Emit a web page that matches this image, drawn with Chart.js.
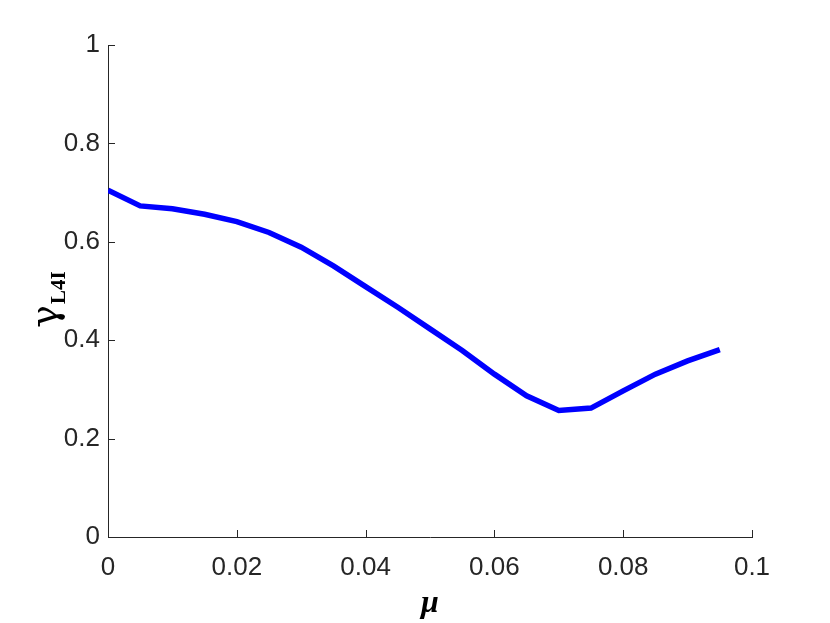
<!DOCTYPE html>
<html>
<head>
<meta charset="utf-8">
<script src="https://cdn.jsdelivr.net/npm/chart.js@4.4.1/dist/chart.umd.min.js"></script>
<style>
  body { margin: 0; background: #fff; }
  canvas { display: block; }
</style>
</head>
<body>
<canvas id="chart" width="830" height="623"></canvas>
<script>
const muValues = [0, 0.005, 0.01, 0.015, 0.02, 0.025, 0.03, 0.035, 0.04, 0.045,
                  0.05, 0.055, 0.06, 0.065, 0.07, 0.075, 0.08, 0.085, 0.09, 0.095];
const gammaValues = [0.705, 0.673, 0.667, 0.656, 0.641, 0.619, 0.589, 0.551, 0.509, 0.467,
                     0.423, 0.379, 0.331, 0.287, 0.257, 0.262, 0.297, 0.331, 0.358, 0.381];
const xTicks = [0, 0.02, 0.04, 0.06, 0.08, 0.1];
const yTicks = [0, 0.2, 0.4, 0.6, 0.8, 1];
const xTitle = "μ";
const yTitle = "γ";
const yTitleSub = "L4I";

const axisColor = "#262626";
const tickFont = { family: "'Liberation Sans', Arial, sans-serif", size: 26 };

// MATLAB-style ticks pointing into the plot area, plus the axis titles
const inwardTicks = {
  id: "inwardTicks",
  afterDatasetsDraw(chart) {
    const ctx = chart.ctx;
    const x = chart.scales.x, y = chart.scales.y;
    const len = 7;
    ctx.save();
    ctx.strokeStyle = axisColor;
    ctx.lineWidth = 1;
    ctx.beginPath();
    x.ticks.forEach(t => {
      const px = Math.round(x.getPixelForValue(t.value)) + 0.5;
      ctx.moveTo(px, y.bottom);
      ctx.lineTo(px, y.bottom - len);
    });
    y.ticks.forEach(t => {
      const py = Math.round(y.getPixelForValue(t.value)) + 0.5;
      ctx.moveTo(x.left, py);
      ctx.lineTo(x.left + len, py);
    });
    ctx.stroke();

    ctx.fillStyle = "#000";
    ctx.textAlign = "center";
    ctx.textBaseline = "alphabetic";
    ctx.font = "italic bold 32px 'Liberation Serif', serif";
    ctx.fillText(xTitle, (x.left + x.right) / 2, 612);

    const gFont = "38px 'DejaVu Serif', serif";
    const sFont = "bold 21px 'Liberation Serif', serif";
    ctx.translate(57, 300);
    ctx.rotate(-Math.PI / 2);
    ctx.textAlign = "left";
    ctx.font = gFont;
    const gw = ctx.measureText(yTitle).width;
    ctx.font = sFont;
    const sw = ctx.measureText(yTitleSub).width;
    const start = -(gw + sw) / 2;
    ctx.font = gFont;
    ctx.fillText(yTitle, start, 0);
    ctx.font = sFont;
    ctx.fillText(yTitleSub, start + gw + 1, 8);
    ctx.restore();
  }
};

new Chart(document.getElementById("chart"), {
  type: "line",
  data: {
    datasets: [{
      data: muValues.map((m, i) => ({ x: m, y: gammaValues[i] })),
      borderColor: "#0000ff",
      borderWidth: 5.5,
      pointRadius: 0,
      fill: false,
      tension: 0
    }]
  },
  options: {
    responsive: false,
    animation: false,
    layout: { padding: { left: 0, right: 78, top: 45, bottom: 0 } },
    plugins: { legend: { display: false }, tooltip: { enabled: false } },
    scales: {
      x: {
        type: "linear",
        min: 0,
        max: 0.1,
        afterBuildTicks: s => { s.ticks = xTicks.map(v => ({ value: v })); },
        afterFit: s => { s.height = 86; },
        grid: { display: false, drawTicks: false },
        border: { display: true, color: axisColor, width: 1 },
        ticks: {
          color: "#262626",
          font: tickFont,
          padding: 15,
          maxRotation: 0,
          callback: v => String(+v.toFixed(2))
        }
      },
      y: {
        min: 0,
        max: 1,
        afterBuildTicks: s => { s.ticks = yTicks.map(v => ({ value: v })); },
        afterFit: s => { s.width = 108; },
        grid: { display: false, drawTicks: false },
        border: { display: true, color: axisColor, width: 1 },
        ticks: {
          color: "#262626",
          font: tickFont,
          padding: 8,
          callback: v => String(+v.toFixed(1))
        }
      }
    }
  },
  plugins: [inwardTicks]
});
</script>
</body>
</html>
